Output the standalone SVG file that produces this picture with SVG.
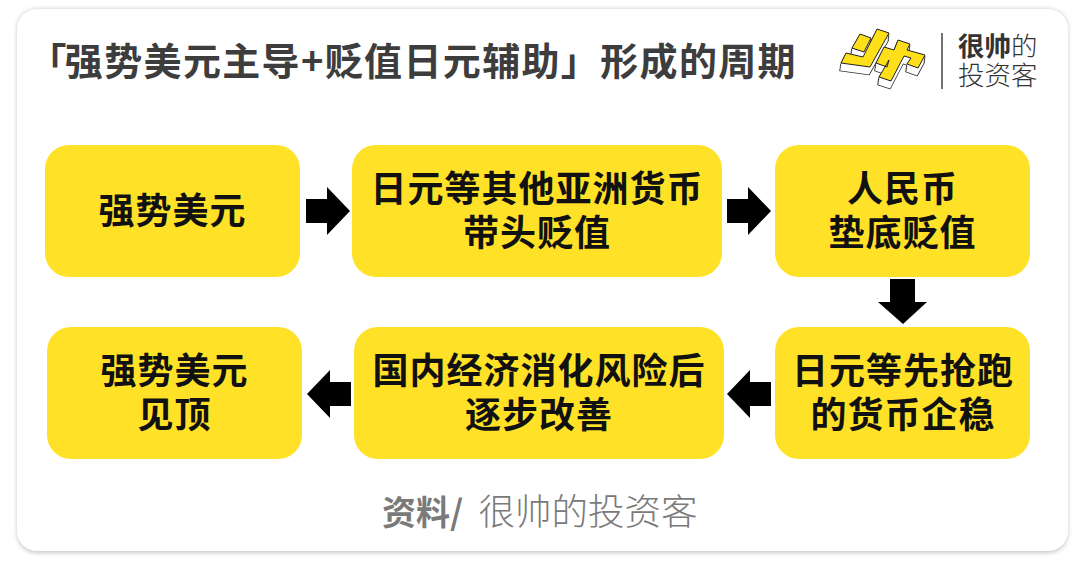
<svg xmlns="http://www.w3.org/2000/svg" width="1080" height="561" viewBox="0 0 1080 561">
<style>
text{font-family:"Noto Sans CJK SC","Liberation Sans",sans-serif;}
.box{fill:#ffe128;}
.lbl{font-size:36px;font-weight:700;fill:#111;text-anchor:middle;letter-spacing:1px;}
.arrow{fill:#000;}
.o{fill:#333;stroke:#333;stroke-width:1.6;stroke-linejoin:round;}
.w{fill:#fff;}
.yl{fill:#ffdf1a;stroke:#222;stroke-width:1;stroke-linejoin:round;}
</style>
<defs>
<filter id="sh" x="-3%" y="-5%" width="106%" height="110%"><feGaussianBlur stdDeviation="2"/></filter>
<path id="g" d="M860 34L871 38L864 52L852 48Z M877 29L889 33L870 67L841 63L846 53L863 57Z M898 40L910 44L907 50L925 55L918 68L907 64L911 58L904 56L891 81L879 77L889 60L887 67L876 63L884 47L894 50Z"/>
</defs>
<rect width="1080" height="561" fill="#fff"/>
<rect x="17" y="9" width="1051" height="544" rx="20" fill="#c9c9c9" filter="url(#sh)"/>
<rect x="17" y="9" width="1051" height="542" rx="20" fill="#fff"/>
<g id="title"><text x="28.500" y="75" font-size="38" font-weight="700" fill="#3d3d3d" letter-spacing="1.350">「<tspan dx="-3">强势美元主导+贬值日元辅助」形成的周期</tspan></text></g>
<g id="logo">
<use href="#g" class="o" transform="translate(-0.300 2)"/><use href="#g" class="o" transform="translate(-0.600 4)"/><use href="#g" class="o" transform="translate(-0.800 6)"/><use href="#g" class="o" transform="translate(-1 7.500)"/>
<use href="#g" class="w" transform="translate(-0.300 2)"/><use href="#g" class="w" transform="translate(-0.600 4)"/><use href="#g" class="w" transform="translate(-0.800 6)"/><use href="#g" class="w" transform="translate(-1 7.500)"/>
<use href="#g" class="yl"/>
<path d="M942 33 V89" stroke="#444" stroke-width="1.5"/>
<text x="958" y="56" font-size="26.500" font-weight="700" fill="#333">很帅<tspan font-weight="300">的</tspan></text>
<text x="958" y="85" font-size="26.500" font-weight="300" fill="#333">投资客</text>
</g>
<g id="node-1"><rect class="box" x="45" y="145" width="255" height="132" rx="24"/><text class="lbl" x="172.500" y="224">强势美元</text></g>
<g id="node-2"><rect class="box" x="352" y="145" width="370" height="132" rx="24"/><text class="lbl" x="537" y="202">日元等其他亚洲货币</text><text class="lbl" x="537" y="246">带头贬值</text></g>
<g id="node-3"><rect class="box" x="775" y="145" width="255" height="132" rx="24"/><text class="lbl" x="902.500" y="202">人民币</text><text class="lbl" x="902.500" y="246">垫底贬值</text></g>
<g id="node-4"><rect class="box" x="775" y="327" width="255" height="132" rx="24"/><text class="lbl" x="903" y="384">日元等先抢跑</text><text class="lbl" x="903" y="428">的货币企稳</text></g>
<g id="node-5"><rect class="box" x="354" y="327" width="370" height="132" rx="24"/><text class="lbl" x="539" y="384">国内经济消化风险后</text><text class="lbl" x="539" y="428">逐步改善</text></g>
<g id="node-6"><rect class="box" x="47" y="327" width="255" height="132" rx="24"/><text class="lbl" x="174.500" y="384">强势美元</text><text class="lbl" x="174.500" y="428">见顶</text></g>
<g id="connectors">
<path class="arrow" d="M306 199H327V187L350 211L327 235V223H306Z"/>
<path class="arrow" d="M727 199H748V187L771 211L748 235V223H727Z"/>
<path class="arrow" d="M890 279H915V302H927L903 324L878 302H890Z"/>
<path class="arrow" d="M771 382H750V370L727 394L750 418V406H771Z"/>
<path class="arrow" d="M351 382H330V370L307 394L330 418V406H351Z"/>
</g>
<g id="source"><text x="382" y="525" font-size="34" font-weight="700" fill="#7a7a7a">资料/</text><text x="478.500" y="525" font-size="36.500" font-weight="300" fill="#7a7a7a">很帅的投资客</text></g>
</svg>
